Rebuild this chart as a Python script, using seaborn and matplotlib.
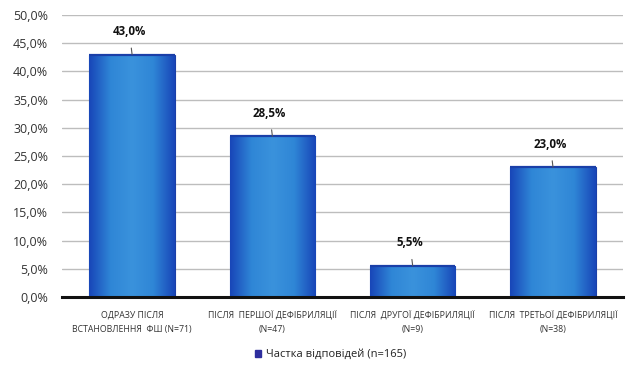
import numpy as np
import pandas as pd
import matplotlib
matplotlib.use("Agg")
import matplotlib.pyplot as plt
from matplotlib.colors import LinearSegmentedColormap
from matplotlib.ticker import FuncFormatter
import seaborn as sns

categories = [
    "ОДРАЗУ ПІСЛЯ\nВСТАНОВЛЕННЯ  ФШ (N=71)",
    "ПІСЛЯ  ПЕРШОЇ ДЕФІБРИЛЯЦІЇ\n(N=47)",
    "ПІСЛЯ  ДРУГОЇ ДЕФІБРИЛЯЦІЇ\n(N=9)",
    "ПІСЛЯ  ТРЕТЬОЇ ДЕФІБРИЛЯЦІЇ\n(N=38)",
]
shares = [43.0, 28.5, 5.5, 23.0]
series_name = "Частка відповідей (n=165)"
y_ticks = [0, 5, 10, 15, 20, 25, 30, 35, 40, 45, 50]

sns.set_theme(style="white")
plt.rcParams["font.family"] = ["Open Sans", "DejaVu Sans"]

df = pd.DataFrame({"category": categories, "share": shares, "series": series_name})

fig = plt.figure(figsize=(6.32, 3.67), dpi=100)
ax = fig.add_axes([0.098, 0.191, 0.888, 0.768])

sns.barplot(data=df, x="category", y="share", hue="series",
            palette=["#2C78CF"], width=0.61, ax=ax, legend=True, zorder=3)

ax.set_ylim(0, 50)
ax.set_xlim(-0.5, 3.5)
ax.set_yticks(y_ticks)
ax.yaxis.set_major_formatter(FuncFormatter(lambda v, p: f"{v:.1f}%".replace(".", ",")))
ax.tick_params(axis="y", labelsize=9, colors="#333333", length=0, pad=10)
ax.tick_params(axis="x", labelsize=6.3, colors="#333333", length=0, pad=10)
for lab in ax.get_xticklabels():
    lab.set_linespacing(1.7)
ax.set_xlabel("")
ax.set_ylabel("")

ax.yaxis.grid(True, color="#bdbdbd", linewidth=1.0, zorder=0)
ax.set_axisbelow(True)
for side in ["top", "right", "left"]:
    ax.spines[side].set_visible(False)
ax.spines["bottom"].set_color("#111111")
ax.spines["bottom"].set_linewidth(2.2)
ax.spines["bottom"].set_zorder(5)

# horizontal gradient fill for each bar: darker edges, lighter middle
cmap = LinearSegmentedColormap.from_list("barblue", ["#1846B8", "#2F86D6", "#3A92DC", "#2F86D6", "#1846B8"])
grad = np.linspace(0, 1, 256).reshape(1, -1)
for bar in ax.patches[:len(shares)]:
    x0, y0 = bar.get_x(), bar.get_y()
    w, h = bar.get_width(), bar.get_height()
    if h <= 0:
        continue
    bar.set_edgecolor("#1A3FA8")
    bar.set_linewidth(0.8)
    im = ax.imshow(grad, extent=[x0, x0 + w, y0, y0 + h], aspect="auto",
                   cmap=cmap, zorder=3.5, interpolation="bicubic")
    im.set_clip_path(bar)
    # darker cap along the top edge
    ax.plot([x0, x0 + w], [y0 + h, y0 + h], color="#1A3FA8", lw=1.6, zorder=4,
            solid_capstyle="butt")

# value labels with short leader lines
for i, v in enumerate(shares):
    ax.annotate(f"{v:.1f}%".replace(".", ","), xy=(i, v), xytext=(i - 0.02, v + 4.1),
                ha="center", va="center", fontsize=8.3, fontweight="bold", color="#111111",
                arrowprops=dict(arrowstyle="-", color="#555555", lw=0.8, shrinkA=5, shrinkB=0),
                zorder=6)
ax.set_xlim(-0.5, 3.5)

leg = ax.legend(loc="center", bbox_to_anchor=(0.478, -0.205), ncol=1, frameon=False,
                fontsize=8, handlelength=0.6, handleheight=0.6, handletextpad=0.4,
                borderpad=0.1)
for h in leg.legend_handles:
    h.set_facecolor("#2E2E9E")
    h.set_edgecolor("#2E2E9E")
for t in leg.get_texts():
    t.set_color("#222222")

fig.savefig("out.png", dpi=100, facecolor="white")
